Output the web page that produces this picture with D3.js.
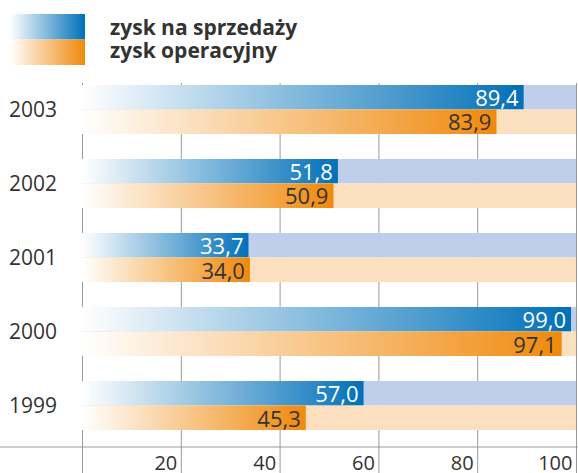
<!DOCTYPE html>
<html>
<head>
<meta charset="utf-8">
<script src="https://cdn.jsdelivr.net/npm/d3@7"></script>
<style>
  body { margin: 0; background: #fff; }
  svg text { font-family: "Open Sans", "Noto Sans", sans-serif; fill: #333; }
</style>
</head>
<body>
<script>
var years = ['2003', '2002', '2001', '2000', '1999'];
var salesProfit = [89.4, 51.8, 33.7, 99.0, 57.0];
var operatingProfit = [83.9, 50.9, 34.0, 97.1, 45.3];
var seriesNames = ['zysk na sprzedaży', 'zysk operacyjny'];
var tickValues = [0, 20, 40, 60, 80, 100];

var width = 578,
	height = 473;

var svg = d3.select('body').append('svg')
	.attr('width', width)
	.attr('height', height);

var defs = svg.append('defs');
function grad(id, color) {
	var g = defs.append('linearGradient').attr('id', id)
		.attr('x1', 0).attr('x2', 1).attr('y1', 0).attr('y2', 0);
	g.append('stop').attr('offset', 0).attr('stop-color', '#ffffff');
	g.append('stop').attr('offset', 1).attr('stop-color', color);
}
grad('gBlue', '#0070b8');
grad('gOrange', '#f0890c');

var colors = [
	{ fill: 'url(#gBlue)', bg: '#bfceea', text: '#ffffff' },
	{ fill: 'url(#gOrange)', bg: '#fbdfbe', text: '#333333' }
];

var x = d3.scaleLinear().domain([0, 100]).range([82, 576]);

var y = d3.scaleBand()
	.domain(years)
	.range([85, 430])
	.paddingInner(0.338)
	.paddingOuter(0);

var inner = d3.scaleBand()
	.domain([0, 1])
	.range([0, y.bandwidth()]);

// grid + axis
var axisY = 447;
var axis = d3.axisBottom(x)
	.tickValues(tickValues)
	.tickFormat(function (d) { return d === 0 ? '' : d; })
	.tickSize(26);

var ax = svg.append('g')
	.attr('transform', 'translate(0,' + axisY + ')')
	.call(axis);
ax.select('.domain').remove();
ax.selectAll('.tick line')
	.attr('y1', 83 - axisY)
	.attr('stroke', '#9a9a9a');
ax.selectAll('.tick text')
	.attr('text-anchor', 'end')
	.attr('x', -4)
	.attr('y', 23)
	.attr('dy', 0)
	.style('font-size', '20px')
	.attr('fill', '#333');

svg.append('line')
	.attr('x1', 0).attr('x2', width)
	.attr('y1', axisY).attr('y2', axisY)
	.attr('stroke', '#9a9a9a');

// bars
var rows = years.map(function (yr, i) {
	return { year: yr, vals: [salesProfit[i], operatingProfit[i]] };
});

var grp = svg.selectAll('.grp')
	.data(rows)
	.enter().append('g')
	.attr('class', 'grp')
	.attr('transform', function (d) { return 'translate(0,' + y(d.year) + ')'; });

grp.append('text')
	.attr('x', 33)
	.attr('y', y.bandwidth() / 2 + 8)
	.attr('text-anchor', 'middle')
	.style('font-size', '21px')
	.text(function (d) { return d.year; });

var bar = grp.selectAll('.bar')
	.data(function (d) { return d.vals.map(function (v, k) { return { v: v, k: k }; }); })
	.enter().append('g')
	.attr('class', 'bar')
	.attr('transform', function (d) { return 'translate(0,' + inner(d.k) + ')'; });

bar.append('rect')
	.attr('x', x(0))
	.attr('width', x(100) - x(0))
	.attr('height', inner.bandwidth())
	.attr('fill', function (d) { return colors[d.k].bg; });

bar.append('rect')
	.attr('x', x(0))
	.attr('width', function (d) { return x(d.v) - x(0); })
	.attr('height', inner.bandwidth())
	.attr('fill', function (d) { return colors[d.k].fill; });

bar.append('text')
	.attr('x', function (d) { return x(d.v) - 5; })
	.attr('y', inner.bandwidth() - 3.5)
	.attr('text-anchor', 'end')
	.style('font-size', '22px')
	.style('fill', function (d) { return colors[d.k].text; })
	.text(function (d) { return d.v.toFixed(1).replace('.', ','); });

// legend
var leg = svg.append('g');
seriesNames.forEach(function (name, k) {
	leg.append('rect')
		.attr('x', 10).attr('y', 14 + k * 25.5)
		.attr('width', 75).attr('height', 25.5)
		.attr('fill', colors[k].fill);
	leg.append('text')
		.attr('x', 110).attr('y', 35 + k * 23)
		.style('font-size', '21px')
		.style('font-weight', 'bold')
		.text(name);
});
</script>
</body>
</html>
